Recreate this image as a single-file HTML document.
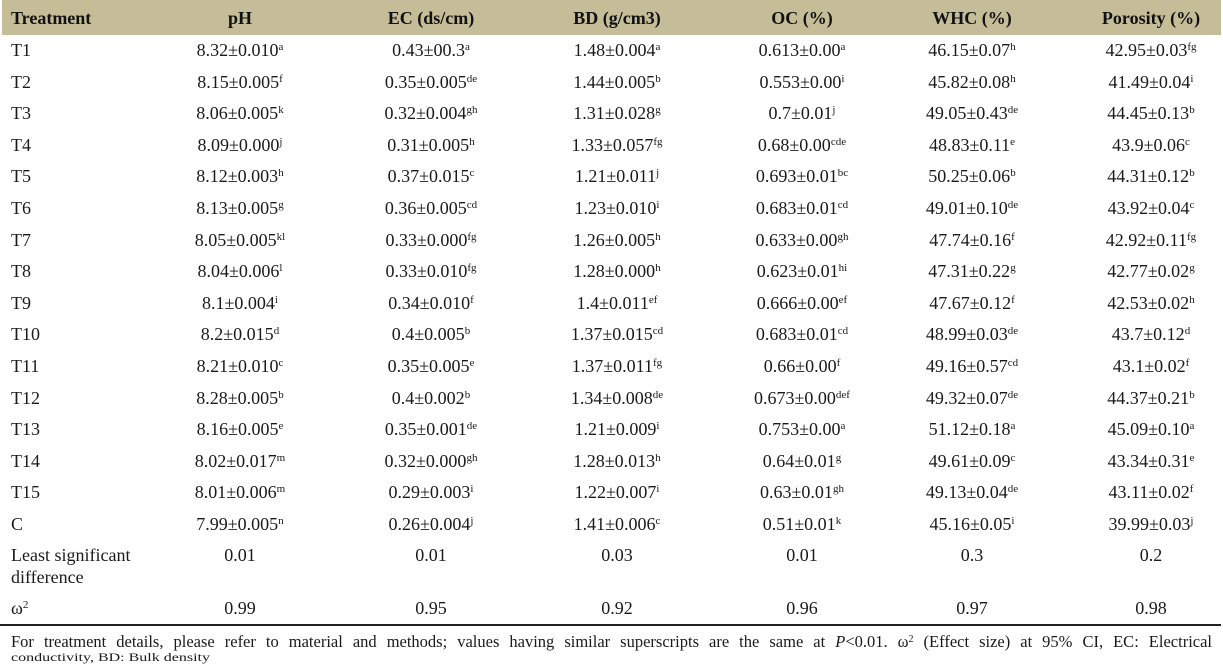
<!DOCTYPE html>
<html>
<head>
<meta charset="utf-8">
<style>
  html,body{margin:0;padding:0;background:#fff;}
  body{width:1223px;height:672px;position:relative;overflow:hidden;
       font-family:"Liberation Serif","DejaVu Serif",serif;color:#1a1a1a;}
  .hdr{position:absolute;left:2px;top:0;width:1219px;height:35px;background:#c4bd97;}
  .r{position:absolute;left:0;width:1223px;height:18px;line-height:18px;font-size:18px;white-space:nowrap;}
  .c{position:absolute;top:0;width:200px;text-align:center;}
  .t{position:absolute;top:0;left:11px;}
  .c1{left:140px}.c2{left:331px}.c3{left:517px}.c4{left:702px}.c5{left:872px}.c6{left:1051px}
  .h{font-weight:bold;color:#111;}
  sup{font-size:11px;line-height:0;vertical-align:6px;}
  .rule{position:absolute;left:0;top:624px;width:1221px;height:2px;background:#222;}
  .fn1{position:absolute;left:11px;top:633px;width:1201px;font-size:16.5px;line-height:18px;
       text-align:justify;text-align-last:justify;white-space:nowrap;}
  .fn2{position:absolute;left:11px;top:648px;font-size:16px;line-height:16px;white-space:nowrap;
       transform:scaleY(0.72);transform-origin:left bottom;}
  .fn1 sup,.fn2 sup{font-size:10px;vertical-align:5px;}
</style>
</head>
<body>
<div class="hdr"></div>
<div class="r h" style="top:9px"><span class="t">Treatment</span><span class="c c1">pH</span><span class="c c2">EC (ds/cm)</span><span class="c c3">BD (g/cm3)</span><span class="c c4">OC (%)</span><span class="c c5">WHC (%)</span><span class="c c6">Porosity (%)</span></div>

<div class="r" style="top:41px"><span class="t">T1</span><span class="c c1">8.32±0.010<sup>a</sup></span><span class="c c2">0.43±00.3<sup>a</sup></span><span class="c c3">1.48±0.004<sup>a</sup></span><span class="c c4">0.613±0.00<sup>a</sup></span><span class="c c5">46.15±0.07<sup>h</sup></span><span class="c c6">42.95±0.03<sup>fg</sup></span></div>
<div class="r" style="top:72.6px"><span class="t">T2</span><span class="c c1">8.15±0.005<sup>f</sup></span><span class="c c2">0.35±0.005<sup>de</sup></span><span class="c c3">1.44±0.005<sup>b</sup></span><span class="c c4">0.553±0.00<sup>i</sup></span><span class="c c5">45.82±0.08<sup>h</sup></span><span class="c c6">41.49±0.04<sup>i</sup></span></div>
<div class="r" style="top:104.2px"><span class="t">T3</span><span class="c c1">8.06±0.005<sup>k</sup></span><span class="c c2">0.32±0.004<sup>gh</sup></span><span class="c c3">1.31±0.028<sup>g</sup></span><span class="c c4">0.7±0.01<sup>j</sup></span><span class="c c5">49.05±0.43<sup>de</sup></span><span class="c c6">44.45±0.13<sup>b</sup></span></div>
<div class="r" style="top:135.8px"><span class="t">T4</span><span class="c c1">8.09±0.000<sup>j</sup></span><span class="c c2">0.31±0.005<sup>h</sup></span><span class="c c3">1.33±0.057<sup>fg</sup></span><span class="c c4">0.68±0.00<sup>cde</sup></span><span class="c c5">48.83±0.11<sup>e</sup></span><span class="c c6">43.9±0.06<sup>c</sup></span></div>
<div class="r" style="top:167.4px"><span class="t">T5</span><span class="c c1">8.12±0.003<sup>h</sup></span><span class="c c2">0.37±0.015<sup>c</sup></span><span class="c c3">1.21±0.011<sup>j</sup></span><span class="c c4">0.693±0.01<sup>bc</sup></span><span class="c c5">50.25±0.06<sup>b</sup></span><span class="c c6">44.31±0.12<sup>b</sup></span></div>
<div class="r" style="top:199px"><span class="t">T6</span><span class="c c1">8.13±0.005<sup>g</sup></span><span class="c c2">0.36±0.005<sup>cd</sup></span><span class="c c3">1.23±0.010<sup>i</sup></span><span class="c c4">0.683±0.01<sup>cd</sup></span><span class="c c5">49.01±0.10<sup>de</sup></span><span class="c c6">43.92±0.04<sup>c</sup></span></div>
<div class="r" style="top:230.6px"><span class="t">T7</span><span class="c c1">8.05±0.005<sup>kl</sup></span><span class="c c2">0.33±0.000<sup>fg</sup></span><span class="c c3">1.26±0.005<sup>h</sup></span><span class="c c4">0.633±0.00<sup>gh</sup></span><span class="c c5">47.74±0.16<sup>f</sup></span><span class="c c6">42.92±0.11<sup>fg</sup></span></div>
<div class="r" style="top:262.2px"><span class="t">T8</span><span class="c c1">8.04±0.006<sup>l</sup></span><span class="c c2">0.33±0.010<sup>fg</sup></span><span class="c c3">1.28±0.000<sup>h</sup></span><span class="c c4">0.623±0.01<sup>hi</sup></span><span class="c c5">47.31±0.22<sup>g</sup></span><span class="c c6">42.77±0.02<sup>g</sup></span></div>
<div class="r" style="top:293.8px"><span class="t">T9</span><span class="c c1">8.1±0.004<sup>i</sup></span><span class="c c2">0.34±0.010<sup>f</sup></span><span class="c c3">1.4±0.011<sup>ef</sup></span><span class="c c4">0.666±0.00<sup>ef</sup></span><span class="c c5">47.67±0.12<sup>f</sup></span><span class="c c6">42.53±0.02<sup>h</sup></span></div>
<div class="r" style="top:325.4px"><span class="t">T10</span><span class="c c1">8.2±0.015<sup>d</sup></span><span class="c c2">0.4±0.005<sup>b</sup></span><span class="c c3">1.37±0.015<sup>cd</sup></span><span class="c c4">0.683±0.01<sup>cd</sup></span><span class="c c5">48.99±0.03<sup>de</sup></span><span class="c c6">43.7±0.12<sup>d</sup></span></div>
<div class="r" style="top:357px"><span class="t">T11</span><span class="c c1">8.21±0.010<sup>c</sup></span><span class="c c2">0.35±0.005<sup>e</sup></span><span class="c c3">1.37±0.011<sup>fg</sup></span><span class="c c4">0.66±0.00<sup>f</sup></span><span class="c c5">49.16±0.57<sup>cd</sup></span><span class="c c6">43.1±0.02<sup>f</sup></span></div>
<div class="r" style="top:388.6px"><span class="t">T12</span><span class="c c1">8.28±0.005<sup>b</sup></span><span class="c c2">0.4±0.002<sup>b</sup></span><span class="c c3">1.34±0.008<sup>de</sup></span><span class="c c4">0.673±0.00<sup>def</sup></span><span class="c c5">49.32±0.07<sup>de</sup></span><span class="c c6">44.37±0.21<sup>b</sup></span></div>
<div class="r" style="top:420.2px"><span class="t">T13</span><span class="c c1">8.16±0.005<sup>e</sup></span><span class="c c2">0.35±0.001<sup>de</sup></span><span class="c c3">1.21±0.009<sup>i</sup></span><span class="c c4">0.753±0.00<sup>a</sup></span><span class="c c5">51.12±0.18<sup>a</sup></span><span class="c c6">45.09±0.10<sup>a</sup></span></div>
<div class="r" style="top:451.8px"><span class="t">T14</span><span class="c c1">8.02±0.017<sup>m</sup></span><span class="c c2">0.32±0.000<sup>gh</sup></span><span class="c c3">1.28±0.013<sup>h</sup></span><span class="c c4">0.64±0.01<sup>g</sup></span><span class="c c5">49.61±0.09<sup>c</sup></span><span class="c c6">43.34±0.31<sup>e</sup></span></div>
<div class="r" style="top:483.4px"><span class="t">T15</span><span class="c c1">8.01±0.006<sup>m</sup></span><span class="c c2">0.29±0.003<sup>i</sup></span><span class="c c3">1.22±0.007<sup>i</sup></span><span class="c c4">0.63±0.01<sup>gh</sup></span><span class="c c5">49.13±0.04<sup>de</sup></span><span class="c c6">43.11±0.02<sup>f</sup></span></div>
<div class="r" style="top:514.5px"><span class="t">C</span><span class="c c1">7.99±0.005<sup>n</sup></span><span class="c c2">0.26±0.004<sup>j</sup></span><span class="c c3">1.41±0.006<sup>c</sup></span><span class="c c4">0.51±0.01<sup>k</sup></span><span class="c c5">45.16±0.05<sup>i</sup></span><span class="c c6">39.99±0.03<sup>j</sup></span></div>

<div class="r" style="top:546px"><span class="t">Least significant</span><span class="c c1">0.01</span><span class="c c2">0.01</span><span class="c c3">0.03</span><span class="c c4">0.01</span><span class="c c5">0.3</span><span class="c c6">0.2</span></div>
<div class="r" style="top:568px"><span class="t">difference</span></div>
<div class="r" style="top:599px"><span class="t">ω<sup>2</sup></span><span class="c c1">0.99</span><span class="c c2">0.95</span><span class="c c3">0.92</span><span class="c c4">0.96</span><span class="c c5">0.97</span><span class="c c6">0.98</span></div>

<div class="rule"></div>
<div class="fn1">For treatment details, please refer to material and methods; values having similar superscripts are the same at <i>P</i>&lt;0.01. ω<sup>2</sup> (Effect size) at 95% CI, EC: Electrical</div>
<div class="fn2">conductivity, BD: Bulk density</div>
</body>
</html>
